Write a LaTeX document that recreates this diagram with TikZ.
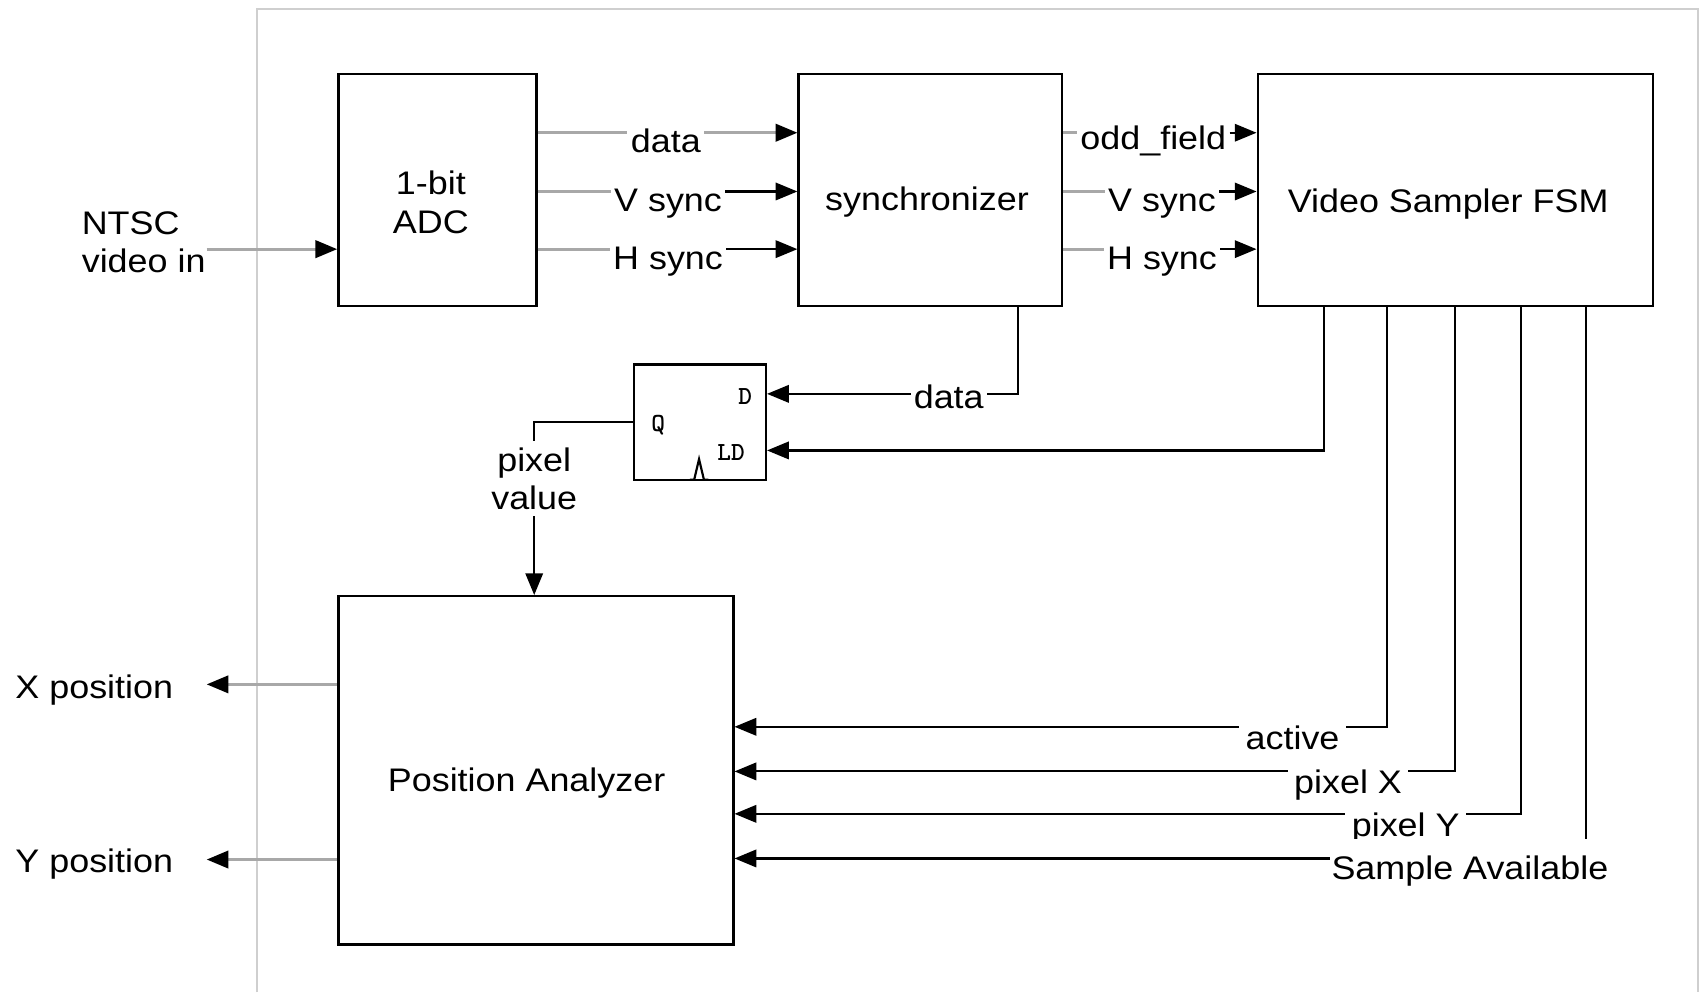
\documentclass[tikz,border=0pt]{standalone}
\usepackage{fontspec}
\setmainfont{Liberation Sans}[FakeStretch=1.1]
\usetikzlibrary{arrows.meta}
\definecolor{lgray}{HTML}{A8A8A8}
\definecolor{framec}{HTML}{CFCFCF}
\begin{document}
\begin{tikzpicture}[x=1pt,y=-1pt,
  blk/.style={draw, line width=2.2pt, inner sep=0pt},
  txt/.style={font=\fontsize{30}{35}\selectfont, align=center, inner sep=0pt},
  lbl/.style={font=\fontsize{30}{35}\selectfont, text height=22pt, text depth=6pt, inner xsep=3pt, inner ysep=1pt, align=center},
  wl/.style={lbl, fill=white},
  ffl/.style={font=\ttfamily\bfseries\fontsize{24}{26}\selectfont, inner sep=0pt},
  ln/.style={line width=2pt},
  gl/.style={line width=2.6pt, draw=lgray},
  tip/.tip={Triangle[length=20pt,width=16pt,color=black]},
  arr/.style={ln, -tip},
  garr/.style={gl, -tip}
]
\useasboundingbox (0,0) rectangle (1568,912);
% frame
\draw[framec, line width=2pt] (236,912) -- (236,8) -- (1561,8) -- (1561,912);

% blocks
\node[blk, minimum width=182pt, minimum height=213pt] (adc) at (402,174.5) {};
\node[txt] (adct) at (396,186) {1-bit\\ADC};
\node[blk, minimum width=242pt, minimum height=213pt] (sync) at (855,174.5) {};
\node[txt] (synct) at (852,186) {synchronizer};
\node[blk, minimum width=363pt, minimum height=213pt] (fsm) at (1337.5,174.5) {};
\node[txt] (fsmt) at (1331,188) {Video Sampler FSM};
\node[blk, line width=2pt, minimum width=121pt, minimum height=106pt] (ff) at (643.5,388) {};
\node[blk, minimum width=363pt, minimum height=320pt] (pa) at (492.5,708) {};
\node[txt] (pat) at (484,720) {Position Analyzer};

% flip-flop pins
\node[ffl] (fd) at (685,364) {D};
\node[ffl] (fq) at (605,391) {Q};
\node[ffl] (fld) at (672,416) {LD};
\draw[line width=2pt] (634,441) -- (638,441) -- (642.5,422) -- (647,441) -- (651,441);

% row coordinates
\coordinate (r1) at (0,122);
\coordinate (r2) at (0,176);
\coordinate (r3) at (0,229);

% ADC -> synchronizer
\node[lbl] (a1) at (612,132) {data};
\node[lbl] (a2) at (614,186) {V sync};
\node[lbl] (a3) at (614,240) {H sync};
\draw[gl] (adc.east |- r1) -- (a1.west |- r1);
\draw[garr] (a1.east |- r1) -- (sync.west |- r1);
\draw[gl] (adc.east |- r2) -- (a2.west |- r2);
\draw[arr] (a2.east |- r2) -- (sync.west |- r2);
\draw[gl] (adc.east |- r3) -- (a3.west |- r3);
\draw[arr] (a3.east |- r3) -- (sync.west |- r3);

% synchronizer -> FSM
\node[lbl] (b1) at (1060,129) {odd\_field};
\node[lbl] (b2) at (1068,186) {V sync};
\node[lbl] (b3) at (1068,240) {H sync};
\draw[gl] (sync.east |- r1) -- (b1.west |- r1);
\draw[arr] (b1.east |- r1) -- (fsm.west |- r1);
\draw[gl] (sync.east |- r2) -- (b2.west |- r2);
\draw[arr] (b2.east |- r2) -- (fsm.west |- r2);
\draw[gl] (sync.east |- r3) -- (b3.west |- r3);
\draw[arr] (b3.east |- r3) -- (fsm.west |- r3);

% NTSC input
\node[txt, align=left, anchor=west] (ntsc) at (75,223) {NTSC\\video in};
\coordinate (nin) at (190,229);
\draw[garr] (nin) -- (adc.west |- nin);

% data to flip-flop
\coordinate (dx) at (936,362);
\draw[arr] (sync.south -| dx) |- (ff.east |- dx);
\node[wl] (dl) at (872,367) {data};

% LD from FSM
\coordinate (ldx) at (1217,414);
\draw[arr] (fsm.south -| ldx) |- (ff.east |- ldx);

% Q -> pixel value -> position analyzer
\node[txt, inner ysep=6pt] (pv) at (491,440) {pixel\\value};
\coordinate (qy) at (0,388);
\draw[ln] (ff.west |- qy) -| (pv.north);
\draw[arr] (pv.south) -- (pa.north -| pv.south);

% outputs
\node[lbl, anchor=west] (xp) at (11,634) {X position};
\node[lbl, anchor=west] (yp) at (11,794) {Y position};
\coordinate (xo) at (190,629);
\coordinate (yo) at (190,790);
\draw[garr] (pa.west |- xo) -- (xo);
\draw[garr] (pa.west |- yo) -- (yo);

% FSM outputs to position analyzer
\coordinate (c1) at (1275,668);
\coordinate (c2) at (1337,709);
\coordinate (c3) at (1398,748);
\coordinate (c4) at (1458,789);
\draw[arr] (fsm.south -| c1) |- (pa.east |- c1);
\draw[arr] (fsm.south -| c2) |- (pa.east |- c2);
\draw[arr] (fsm.south -| c3) |- (pa.east |- c3);
\draw[arr] (fsm.south -| c4) |- (pa.east |- c4);
\node[wl, inner xsep=6pt] (l1) at (1188,681) {active};
\node[wl, inner xsep=6pt] (l2) at (1239,721) {pixel X};
\node[wl, inner xsep=6pt] (l3) at (1292,761) {pixel Y};
\node[wl, inner xsep=1pt, anchor=base, text height=36pt] (l4) at (1351,808) {Sample Available};
\end{tikzpicture}
\end{document}
